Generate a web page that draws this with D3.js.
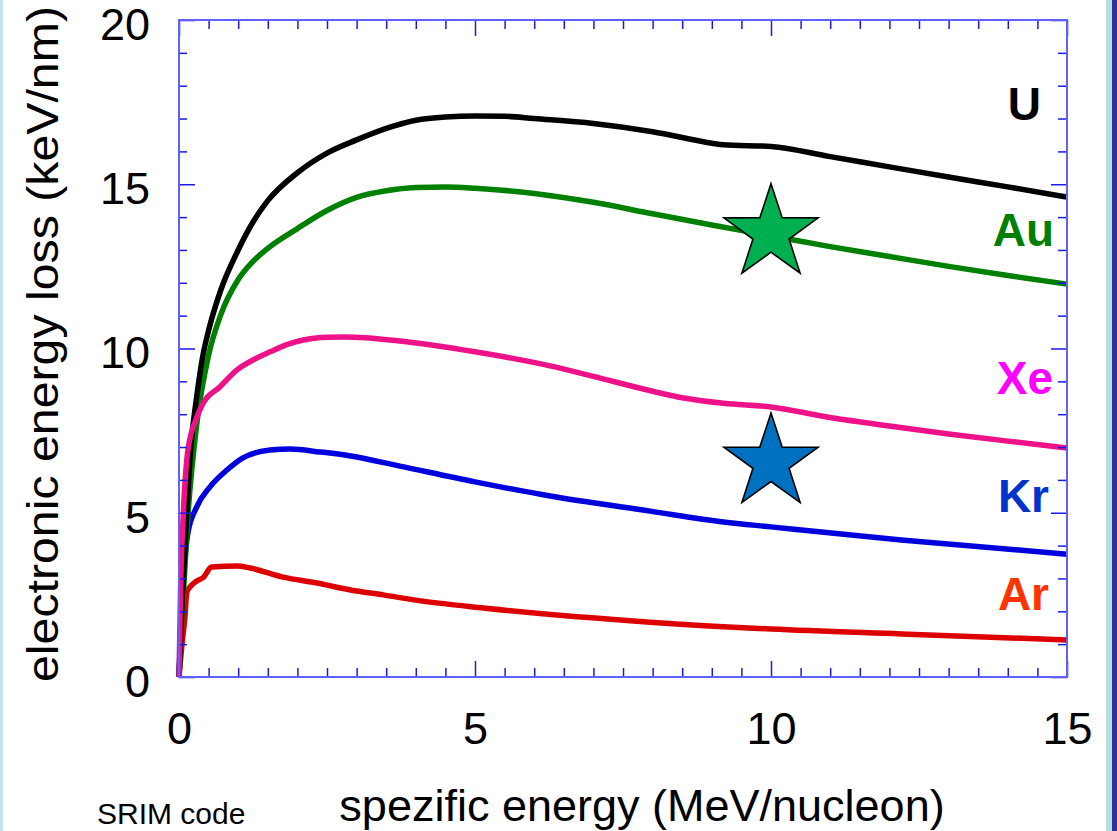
<!DOCTYPE html>
<html>
<head>
<meta charset="utf-8">
<script src="https://cdn.jsdelivr.net/npm/d3@7"></script>
<style>
  html, body { margin: 0; padding: 0; background: #ffffff; }
  svg { display: block; }
  text { font-family: "Liberation Sans", Arial, Helvetica, sans-serif; }
</style>
</head>
<body>
<svg id="chart" width="1117" height="831"></svg>
<script>
// ---------- data ----------
const uEnergy = [0, 0.05, 0.1, 0.2, 0.3, 0.4, 0.5, 0.7, 1.0, 1.25, 1.5, 2.0, 2.5, 3.0, 3.5, 4.0, 4.5, 5.0, 5.5, 6.0, 7.0, 8.0, 9.0, 9.2, 10.0, 11.0, 12.0, 13.0, 14.0, 15.0];
const uLoss   = [0, 2.2, 3.9, 7.0, 8.55, 9.75, 10.55, 11.75, 13.0, 13.85, 14.5, 15.35, 15.95, 16.35, 16.7, 16.95, 17.05, 17.08, 17.07, 17.0, 16.85, 16.6, 16.25, 16.2, 16.15, 15.84, 15.53, 15.22, 14.92, 14.61];

const auEnergy = [0, 0.05, 0.15, 0.3, 0.5, 0.7, 1.0, 1.25, 1.5, 2.0, 2.5, 3.0, 3.5, 4.0, 4.5, 5.0, 6.0, 7.0, 8.0, 9.0, 10.0, 11.0, 12.0, 13.0, 14.0, 15.0];
const auLoss   = [0, 1.8, 4.9, 7.7, 9.8, 11.0, 12.1, 12.65, 13.05, 13.65, 14.2, 14.6, 14.8, 14.9, 14.92, 14.88, 14.72, 14.45, 14.1, 13.76, 13.43, 13.1, 12.8, 12.5, 12.22, 11.96];

const xeEnergy = [0, 0.03, 0.07, 0.15, 0.3, 0.41, 0.69, 0.98, 1.25, 1.54, 1.82, 2.1, 2.5, 2.8, 3.73, 5.0, 6.27, 7.0, 8.0, 8.5, 9.2, 10.0, 11.0, 12.0, 13.0, 14.0, 15.0];
const xeLoss   = [0, 3.0, 4.87, 6.9, 7.9, 8.34, 8.83, 9.35, 9.65, 9.9, 10.12, 10.26, 10.34, 10.35, 10.23, 9.9, 9.47, 9.15, 8.7, 8.5, 8.33, 8.22, 7.9, 7.64, 7.4, 7.18, 6.97];

const krEnergy = [0, 0.03, 0.07, 0.15, 0.3, 0.52, 0.81, 1.08, 1.54, 1.88, 2.38, 2.9, 3.73, 5.0, 6.27, 7.96, 9.2, 10.0, 12.2, 15.0];
const krLoss   = [0, 1.5, 2.86, 4.38, 5.18, 5.78, 6.3, 6.67, 6.91, 6.94, 6.85, 6.73, 6.42, 5.94, 5.51, 5.05, 4.72, 4.57, 4.17, 3.74];

const arEnergy = [0, 0.05, 0.1, 0.13, 0.19, 0.3, 0.41, 0.55, 0.98, 1.2, 1.76, 2.33, 2.9, 3.45, 4.0, 5.14, 7.96, 10.0, 12.2, 15.0];
const arLoss   = [0, 1.0, 1.83, 2.56, 2.75, 2.92, 3.03, 3.35, 3.38, 3.32, 3.04, 2.86, 2.65, 2.5, 2.34, 2.1, 1.67, 1.46, 1.31, 1.13];

const seriesNames = ["U", "Au", "Xe", "Kr", "Ar"];

const starEnergy = [10, 10];
const starLoss   = [13.51, 6.53];

const xMajorTicks = [0, 5, 10, 15];
const yMajorTicks = [0, 5, 10, 15, 20];
const xTickLabels = ["0", "5", "10", "15"];
const yTickLabels = ["0", "5", "10", "15", "20"];

const xTitle = "spezific energy (MeV/nucleon)";
const yTitle = "electronic energy loss (keV/nm)";
const noteText = "SRIM code";

// ---------- layout & styles ----------
const svg = d3.select("#chart");
const L = 179, R = 1067, T = 20, B = 677;

const x = d3.scaleLinear().domain([0, 15]).range([L, R]);
const y = d3.scaleLinear().domain([0, 20]).range([B, T]);

const lineColors = { U: "#000000", Au: "#008000", Xe: "#ee1289", Kr: "#0000dd", Ar: "#dd0000" };
const labelColors = { U: "#000000", Au: "#008000", Xe: "#ff00ff", Kr: "#0033cc", Ar: "#ff3300" };
const labelPos = { U: [1041, 120], Au: [1054, 246], Xe: [1053, 394], Kr: [1049, 512], Ar: [1049, 610] };
const starColors = ["#00b050", "#0070c0"];

// side strips (slide decoration)
svg.append("rect").attr("x", 0).attr("y", 0).attr("width", 3).attr("height", 831).attr("fill", "#bfe3e8");
svg.append("rect").attr("x", 1106).attr("y", 0).attr("width", 6).attr("height", 831).attr("fill", "#b8dfe3");
svg.append("rect").attr("x", 1112).attr("y", 0).attr("width", 5).attr("height", 831).attr("fill", "#2e3192");

// ---------- curves ----------
const series = [
  { name: "U",  e: uEnergy,  v: uLoss },
  { name: "Au", e: auEnergy, v: auLoss },
  { name: "Xe", e: xeEnergy, v: xeLoss },
  { name: "Kr", e: krEnergy, v: krLoss },
  { name: "Ar", e: arEnergy, v: arLoss }
];

const line = d3.line()
  .x(d => x(d[0]))
  .y(d => y(d[1]))
  .curve(d3.curveMonotoneX);

const drawOrder = ["Ar", "Kr", "Au", "U", "Xe"];
drawOrder.forEach(n => {
  const s = series.find(d => d.name === n);
  const pts = s.e.map((e, i) => [e, s.v[i]]);
  svg.append("path")
    .datum(pts)
    .attr("d", line)
    .attr("fill", "none")
    .attr("stroke", lineColors[n])
    .attr("stroke-width", 5.5)
    .attr("stroke-linejoin", "round")
    .attr("stroke-linecap", "butt");
});

// ---------- frame and ticks ----------
const frameColor = "#6060ff";
const tickColor = "#1a1ae6";

const xMinor = d3.range(0, 15.001, 0.5).filter(v => v % 5 !== 0);
const yMinor = d3.range(0, 20.001, 1).filter(v => v % 5 !== 0);

function addAxis(gen, tx, ty) {
  const g = svg.append("g").attr("transform", `translate(${tx},${ty})`).call(gen);
  g.select(".domain").remove();
  g.selectAll("line").attr("stroke", tickColor).attr("stroke-width", 1.5);
  return g;
}
addAxis(d3.axisBottom(x).tickValues(xMinor).tickSize(-9).tickFormat(""), 0, B);
addAxis(d3.axisBottom(x).tickValues(xMajorTicks).tickSize(-16).tickFormat(""), 0, B);
addAxis(d3.axisTop(x).tickValues(xMinor).tickSize(-9).tickFormat(""), 0, T);
addAxis(d3.axisTop(x).tickValues(xMajorTicks).tickSize(-16).tickFormat(""), 0, T);
addAxis(d3.axisLeft(y).tickValues(yMinor).tickSize(-8).tickFormat(""), L, 0);
addAxis(d3.axisLeft(y).tickValues(yMajorTicks).tickSize(-16).tickFormat(""), L, 0);
addAxis(d3.axisRight(y).tickValues(yMinor).tickSize(-9).tickFormat(""), R, 0);
addAxis(d3.axisRight(y).tickValues(yMajorTicks).tickSize(-16).tickFormat(""), R, 0);

svg.append("rect")
  .attr("x", L).attr("y", T).attr("width", R - L).attr("height", B - T)
  .attr("fill", "none").attr("stroke", frameColor).attr("stroke-width", 2);

// tick labels
const xLab = svg.append("g").attr("transform", `translate(0,${B})`)
  .call(d3.axisBottom(x).tickValues(xMajorTicks).tickSize(0).tickPadding(35)
    .tickFormat((d, i) => xTickLabels[i]));
xLab.select(".domain").remove();
xLab.selectAll("text").attr("font-size", 45).attr("fill", "#000")
  .attr("font-family", '"Liberation Sans", Arial, sans-serif');

const yLab = svg.append("g").attr("transform", `translate(${L},0)`)
  .call(d3.axisLeft(y).tickValues(yMajorTicks).tickSize(0).tickPadding(29)
    .tickFormat((d, i) => yTickLabels[i]));
yLab.select(".domain").remove();
yLab.selectAll("text").attr("font-size", 45).attr("fill", "#000").attr("dy", "0.43em")
  .attr("font-family", '"Liberation Sans", Arial, sans-serif');

// ---------- stars ----------
function starPath(cx, cy, Ro, Ri) {
  const pts = [];
  for (let k = 0; k < 10; k++) {
    const a = -Math.PI / 2 + k * Math.PI / 5;
    const rr = k % 2 === 0 ? Ro : Ri;
    pts.push([cx + rr * Math.cos(a), cy + rr * Math.sin(a)]);
  }
  return "M" + pts.map(p => p.join(",")).join("L") + "Z";
}
starEnergy.forEach((e, i) => {
  svg.append("path")
    .attr("d", starPath(x(e), y(starLoss[i]), 49.5, 19))
    .attr("fill", starColors[i])
    .attr("stroke", "#000")
    .attr("stroke-width", 1.6)
    .attr("stroke-linejoin", "miter");
});

// ---------- series labels ----------
seriesNames.forEach(n => {
  svg.append("text")
    .attr("x", labelPos[n][0]).attr("y", labelPos[n][1])
    .attr("text-anchor", "end")
    .attr("font-size", 46).attr("font-weight", "bold")
    .attr("fill", labelColors[n])
    .text(n);
});

// ---------- titles ----------
svg.append("text")
  .attr("x", 642).attr("y", 821)
  .attr("text-anchor", "middle")
  .attr("font-size", 45).attr("fill", "#000")
  .text(xTitle);

svg.append("text")
  .attr("transform", "translate(58,682) rotate(-90)")
  .attr("x", 0).attr("y", 0)
  .attr("text-anchor", "start")
  .attr("font-size", 44).attr("fill", "#000")
  .attr("textLength", 676).attr("lengthAdjust", "spacingAndGlyphs")
  .text(yTitle);

svg.append("text")
  .attr("x", 97).attr("y", 824)
  .attr("font-size", 30).attr("fill", "#000")
  .text(noteText);
</script>
</body>
</html>
